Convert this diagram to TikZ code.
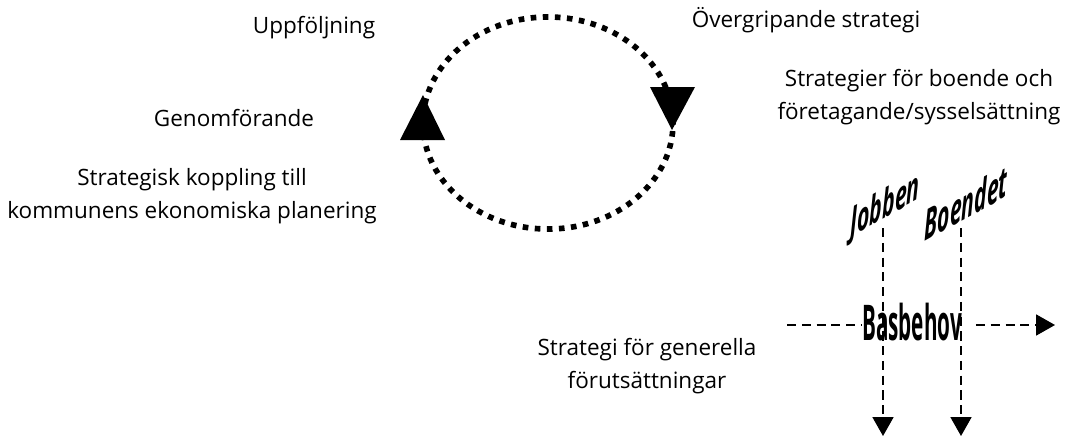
\documentclass[tikz,border=0pt]{standalone}
\usepackage{fontspec}
\setmainfont{Open Sans}
\usetikzlibrary{arrows.meta,calc}

\tikzset{
  plain text/.style={align=center, inner sep=0pt, font=\fontsize{16}{23}\selectfont},
  cycle line/.style={line width=4pt, dash pattern=on 4pt off 4.6pt},
  art text/.style={inner sep=0pt, font=\bfseries\fontsize{35}{35}\selectfont},
  slant text/.style={inner sep=0pt, font=\bfseries\itshape\fontsize{#1}{#1}\selectfont, yslant=0.55},
  thin dash/.style={line width=1.3pt, dash pattern=on 6.5pt off 4pt},
  big tip/.style={-{Triangle[length=0.47cm, width=0.52cm]}}
}

\begin{document}
\begin{tikzpicture}[x=0.025cm, y=0.025cm]
\useasboundingbox (0,0) rectangle (1090,437);

% texts
\node[plain text] (upp) at (314,409) {Uppföljning};
\node[plain text] (over) at (806,417) {Övergripande strategi};
\node[plain text] (genom) at (234,319) {Genomförande};
\node[plain text] (koppl) at (192,241) {Strategisk koppling till\\kommunens ekonomiska planering};
\node[plain text] (boende) at (919,340) {Strategier för boende och\\företagande/sysselsättning};
\node[plain text] (gener) at (647,71) {Strategi för generella\\förutsättningar};

% the cycle
\draw[cycle line] (548,314) ellipse [x radius=3.125cm, y radius=2.65cm];
\fill (400,297) -- (445,297) -- (423,342) -- cycle;
\fill (650,350) -- (695,350) -- (672,307) -- cycle;

% basbehov
\node[art text, xscale=0.42] (bas) at (912,115) {Basbehov};
\node[slant text=28, xscale=0.54] (jobb) at (885,230) {Jobben};
\node[slant text=30, xscale=0.5] (boen) at (966,234) {Boendet};

\coordinate (hstart) at (787,112);
\coordinate (hend) at (1055,112);
\coordinate (jtop) at (883,209);
\coordinate (jend) at (883,1);
\coordinate (btop) at (961,209);
\coordinate (bend) at (961,1);

\draw[thin dash] (hstart) -- (hstart -| bas.west);
\draw[thin dash, big tip, shorten <=0.35cm] (hend -| bas.east) -- (hend);
\draw[thin dash, big tip] (jtop) -- (jend);
\draw[thin dash, big tip] (btop) -- (bend);
\end{tikzpicture}
\end{document}
